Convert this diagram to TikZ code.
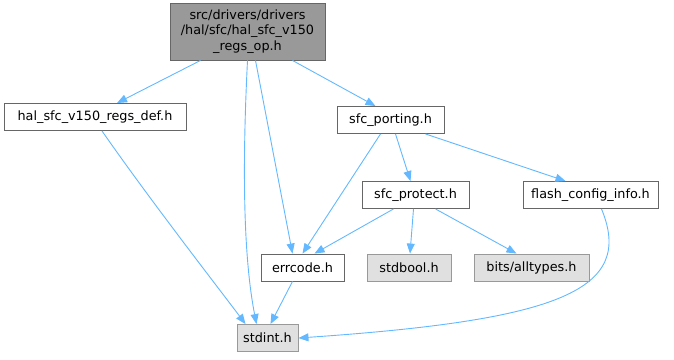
\documentclass[tikz,border=0pt]{standalone}
\usepackage{fontspec}
\setmainfont{DejaVu Sans}
\usetikzlibrary{arrows.meta}
\definecolor{edgec}{HTML}{63B8FF}
\definecolor{rootfill}{HTML}{999999}
\definecolor{darkb}{HTML}{666666}
\definecolor{sysfill}{HTML}{E0E0E0}
\definecolor{sysb}{HTML}{999999}
\tikzset{
  box/.style={draw=darkb, fill=white, line width=0.9pt, inner sep=0pt, minimum height=27pt,
    font=\fontsize{12.8}{15.5}\selectfont, text=black},
  rootbox/.style={box, fill=rootfill, align=center},
  sysbox/.style={box, draw=sysb, fill=sysfill},
  edge/.style={draw=edgec, line width=0.9pt, -{Triangle[length=10pt,width=8pt]}},
}
\begin{document}
\begin{tikzpicture}[x=1pt,y=-1pt]
\useasboundingbox (0,0) rectangle (674,359);
\node[rootbox, minimum width=155pt, minimum height=57pt] (root) at (247.5,31.5)
  {src/drivers/drivers\\/hal/sfc/hal\_sfc\_v150\\\_regs\_op.h};
\node[box, minimum width=182pt] (haldef) at (95,117) {hal\_sfc\_v150\_regs\_def.h};
\node[box, minimum width=107pt] (porting) at (390.5,120) {sfc\_porting.h};
\node[box, minimum width=107pt] (protect) at (415.5,195) {sfc\_protect.h};
\node[box, minimum width=135pt] (flash) at (590.5,195) {flash\_config\_info.h};
\node[box, minimum width=83pt] (errcode) at (302.5,267.5) {errcode.h};
\node[sysbox, minimum width=84pt] (stdbool) at (409,267.5) {stdbool.h};
\node[sysbox, minimum width=115pt] (bits) at (531.5,267.5) {bits/alltypes.h};
\node[sysbox, minimum width=61pt] (stdint) at (267.5,338) {stdint.h};

\draw[edge] ([xshift=-47pt]root.south) -- ([xshift=22pt]haldef.north);
\draw[edge] ([xshift=45pt]root.south) -- ([xshift=-15pt]porting.north);
\draw[edge] ([xshift=8pt]root.south) -- ([xshift=-10pt]errcode.north);
\draw[edge] ([xshift=0pt]root.south) .. controls (243,150) and (242,250) .. ([xshift=-11pt]stdint.north);
\draw[edge] ([xshift=7pt]haldef.south) .. controls (150,200) and (220,290) .. ([xshift=-22pt]stdint.north);
\draw[edge] ([xshift=-10pt]errcode.south) -- ([xshift=3pt]stdint.north);
\draw[edge] ([xshift=-10pt]porting.south) -- ([xshift=0pt]errcode.north);
\draw[edge] ([xshift=5pt]porting.south) -- ([xshift=-5pt]protect.north);
\draw[edge] ([xshift=35pt]porting.south) -- ([xshift=-25pt]flash.north);
\draw[edge] ([xshift=-22pt]protect.south) -- ([xshift=12pt]errcode.north);
\draw[edge] ([xshift=-2pt]protect.south) -- ([xshift=1pt]stdbool.north);
\draw[edge] ([xshift=20pt]protect.south) -- ([xshift=-15pt]bits.north);
\draw[edge] ([xshift=11pt]flash.south) .. controls (635,290) and (560,320) .. (stdint.east);
\end{tikzpicture}
\end{document}
